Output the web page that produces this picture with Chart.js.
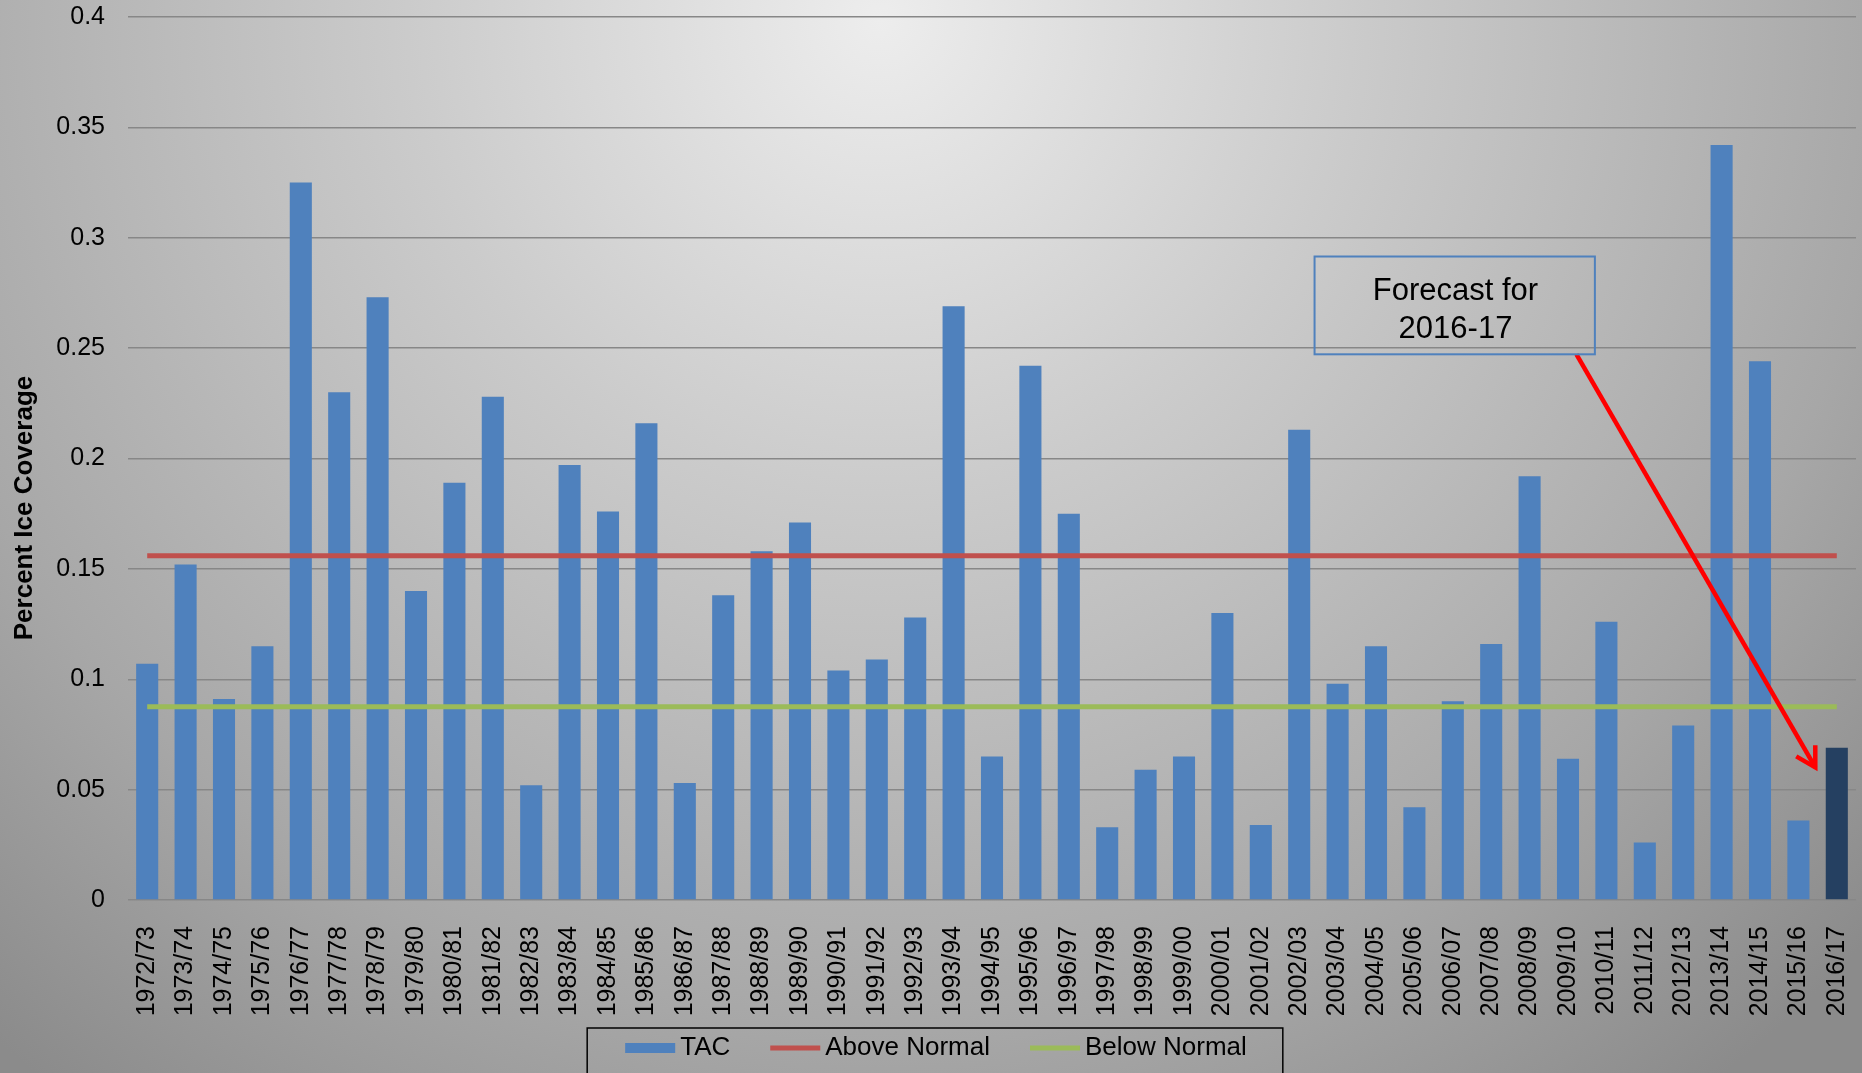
<!DOCTYPE html>
<html>
<head>
<meta charset="utf-8">
<title>Percent Ice Coverage</title>
<script src="https://cdn.jsdelivr.net/npm/chart.js@4.4.1/dist/chart.umd.min.js"></script>
<style>
  html, body { margin: 0; padding: 0; overflow: hidden; background: #b4b4b4; }
  #wrap { width: 1862px; height: 1073px; }
</style>
</head>
<body>
<div id="wrap"><canvas id="iceChart" width="1862" height="1073"></canvas></div>
<script>
// winters on the x axis
const seasons = [
  '1972/73', '1973/74', '1974/75', '1975/76', '1976/77', '1977/78', '1978/79', '1979/80',
  '1980/81', '1981/82', '1982/83', '1983/84', '1984/85', '1985/86', '1986/87', '1987/88',
  '1988/89', '1989/90', '1990/91', '1991/92', '1992/93', '1993/94', '1994/95', '1995/96',
  '1996/97', '1997/98', '1998/99', '1999/00', '2000/01', '2001/02', '2002/03', '2003/04',
  '2004/05', '2005/06', '2006/07', '2007/08', '2008/09', '2009/10', '2010/11', '2011/12',
  '2012/13', '2013/14', '2014/15', '2015/16', '2016/17'
];

// TAC ice coverage, last value is the forecast
const tacValues = [
  0.107, 0.152, 0.091, 0.115, 0.325, 0.230, 0.273, 0.140,
  0.189, 0.228, 0.052, 0.197, 0.176, 0.216, 0.053, 0.138,
  0.158, 0.171, 0.104, 0.109, 0.128, 0.269, 0.065, 0.242,
  0.175, 0.033, 0.059, 0.065, 0.130, 0.034, 0.213, 0.098,
  0.115, 0.042, 0.090, 0.116, 0.192, 0.064, 0.126, 0.026,
  0.079, 0.342, 0.244, 0.036, 0.069
];
const forecastSeason = '2016/17';

// thresholds, drawn across the whole record
const aboveNormal = [0.156, 0.156];
const belowNormal = [0.0875, 0.0875];

const yTicks = [0, 0.05, 0.1, 0.15, 0.2, 0.25, 0.3, 0.35, 0.4];

const FONT = "'Liberation Sans', Arial, sans-serif";
const BLUE = '#4f81bd';
const DARK = '#254061';
const RED = '#c0504d';
const GREEN = '#9bbb59';

// endpoints of a threshold line on the category axis
function thresholdPoints(vals) {
  return [
    { x: seasons[0], y: vals[0] },
    { x: seasons[seasons.length - 1], y: vals[1] }
  ];
}

// gradient backdrop like the original slide
const backdrop = {
  id: 'backdrop',
  beforeDraw(chart) {
    const { ctx, width, height } = chart;
    const g = ctx.createRadialGradient(880, 20, 0, 880, 20, 1350);
    g.addColorStop(0, '#ededed');
    g.addColorStop(0.35, '#cbcbcb');
    g.addColorStop(0.75, '#a7a7a7');
    g.addColorStop(1, '#8b8b8b');
    ctx.save();
    ctx.fillStyle = g;
    ctx.fillRect(0, 0, width, height);
    ctx.restore();
  }
};

// y axis title, placed a bit below the middle as in the original
const sideTitle = {
  id: 'sideTitle',
  afterDraw(chart) {
    const { ctx } = chart;
    ctx.save();
    ctx.translate(25, 508);
    ctx.rotate(-Math.PI / 2);
    ctx.font = 'bold 26px ' + FONT;
    ctx.fillStyle = '#000';
    ctx.textAlign = 'center';
    ctx.textBaseline = 'middle';
    ctx.fillText('Percent Ice Coverage', 0, 0);
    ctx.restore();
  }
};

// callout box + red arrow pointing at the forecast bar (data coordinates)
const forecastNote = {
  box: { x0: 30.4, x1: 37.7, y0: 0.2915, y1: 0.2472 },
  lines: ['Forecast for', '2016-17'],
  lineX: 34.07,
  lineY: [0.2757, 0.2585],
  from: { x: 37.22, y: 0.2472 },
  to: { x: 43.44, y: 0.0601 }
};

const callout = {
  id: 'callout',
  afterDatasetsDraw(chart) {
    const { ctx, scales: { x, y } } = chart;
    const n = forecastNote;
    ctx.save();
    // arrow
    const x1 = x.getPixelForValue(n.from.x), y1 = y.getPixelForValue(n.from.y);
    const x2 = x.getPixelForValue(n.to.x), y2 = y.getPixelForValue(n.to.y);
    ctx.strokeStyle = '#ff0000';
    ctx.lineWidth = 4.5;
    ctx.beginPath();
    ctx.moveTo(x1, y1);
    ctx.lineTo(x2, y2);
    ctx.stroke();
    const back = Math.atan2(y1 - y2, x1 - x2);
    const len = 22;
    ctx.lineJoin = 'miter';
    ctx.beginPath();
    ctx.moveTo(x2 + len * Math.cos(back - Math.PI / 6), y2 + len * Math.sin(back - Math.PI / 6));
    ctx.lineTo(x2, y2);
    ctx.lineTo(x2 + len * Math.cos(back + Math.PI / 6), y2 + len * Math.sin(back + Math.PI / 6));
    ctx.stroke();
    // box
    const bx0 = x.getPixelForValue(n.box.x0), bx1 = x.getPixelForValue(n.box.x1);
    const by0 = y.getPixelForValue(n.box.y0), by1 = y.getPixelForValue(n.box.y1);
    ctx.strokeStyle = '#4f81bd';
    ctx.lineWidth = 2;
    ctx.strokeRect(bx0, by0, bx1 - bx0, by1 - by0);
    ctx.fillStyle = '#000';
    ctx.font = '31px ' + FONT;
    ctx.textAlign = 'center';
    ctx.textBaseline = 'middle';
    n.lines.forEach((t, i) => {
      ctx.fillText(t, x.getPixelForValue(n.lineX), y.getPixelForValue(n.lineY[i]));
    });
    ctx.restore();
  }
};

// boxed legend at the bottom
const boxLegend = {
  id: 'boxLegend',
  afterDraw(chart) {
    const { ctx } = chart;
    const items = chart.data.datasets.map(ds => ({ text: ds.label, color: ds.legendColor, h: ds.legendHeight }));
    const swatchW = 50, gap = 5, spacing = 40, cy = 1048;
    ctx.save();
    ctx.font = '26px ' + FONT;
    const widths = items.map(it => swatchW + gap + ctx.measureText(it.text).width);
    const total = widths.reduce((a, b) => a + b, 0) + spacing * (items.length - 1);
    let cx = 936 - total / 2;
    const left = cx - 38, right = cx + total + 36;
    items.forEach((it, i) => {
      ctx.fillStyle = it.color;
      ctx.fillRect(cx, cy - it.h / 2, swatchW, it.h);
      ctx.fillStyle = '#000';
      ctx.textBaseline = 'middle';
      ctx.fillText(it.text, cx + swatchW + gap, cy);
      cx += widths[i] + spacing;
    });
    ctx.strokeStyle = '#000';
    ctx.lineWidth = 1.5;
    ctx.strokeRect(left, 1028, right - left, 80);
    ctx.restore();
  }
};

new Chart(document.getElementById('iceChart'), {
  type: 'bar',
  data: {
    labels: seasons,
    datasets: [
      {
        type: 'bar',
        label: 'TAC',
        data: tacValues,
        backgroundColor: seasons.map(s => s === forecastSeason ? DARK : BLUE),
        categoryPercentage: 1,
        barPercentage: 0.575,
        order: 3,
        legendColor: BLUE,
        legendHeight: 10
      },
      {
        type: 'line',
        label: 'Above Normal',
        data: thresholdPoints(aboveNormal),
        borderColor: RED,
        borderWidth: 5,
        pointRadius: 0,
        order: 1,
        legendColor: RED,
        legendHeight: 5
      },
      {
        type: 'line',
        label: 'Below Normal',
        data: thresholdPoints(belowNormal),
        borderColor: GREEN,
        borderWidth: 5,
        pointRadius: 0,
        order: 2,
        legendColor: GREEN,
        legendHeight: 5
      }
    ]
  },
  options: {
    responsive: false,
    animation: false,
    layout: { padding: { top: 17, right: 6, left: 0, bottom: 0 } },
    plugins: {
      legend: { display: false },
      tooltip: { enabled: false }
    },
    scales: {
      x: {
        grid: { display: false },
        border: { display: false },
        ticks: {
          autoSkip: false,
          minRotation: 90,
          maxRotation: 90,
          padding: 18,
          color: '#000',
          font: { family: FONT, size: 25 }
        },
        afterFit(scale) {
          scale.height = 173;
          scale.paddingLeft = 0;
          scale.paddingRight = 0;
        }
      },
      y: {
        min: 0,
        max: 0.4,
        grid: { color: '#878787', lineWidth: 1.5, drawTicks: false },
        border: { display: false },
        afterBuildTicks(scale) {
          scale.ticks = yTicks.map(v => ({ value: v }));
        },
        ticks: {
          padding: 23,
          color: '#000',
          font: { family: FONT, size: 25 },
          callback: v => String(+v.toFixed(2))
        },
        afterFit(scale) {
          scale.width = 128;
          scale.paddingTop = 0;
          scale.paddingBottom = 0;
        }
      }
    }
  },
  plugins: [backdrop, sideTitle, callout, boxLegend]
});
</script>
</body>
</html>
